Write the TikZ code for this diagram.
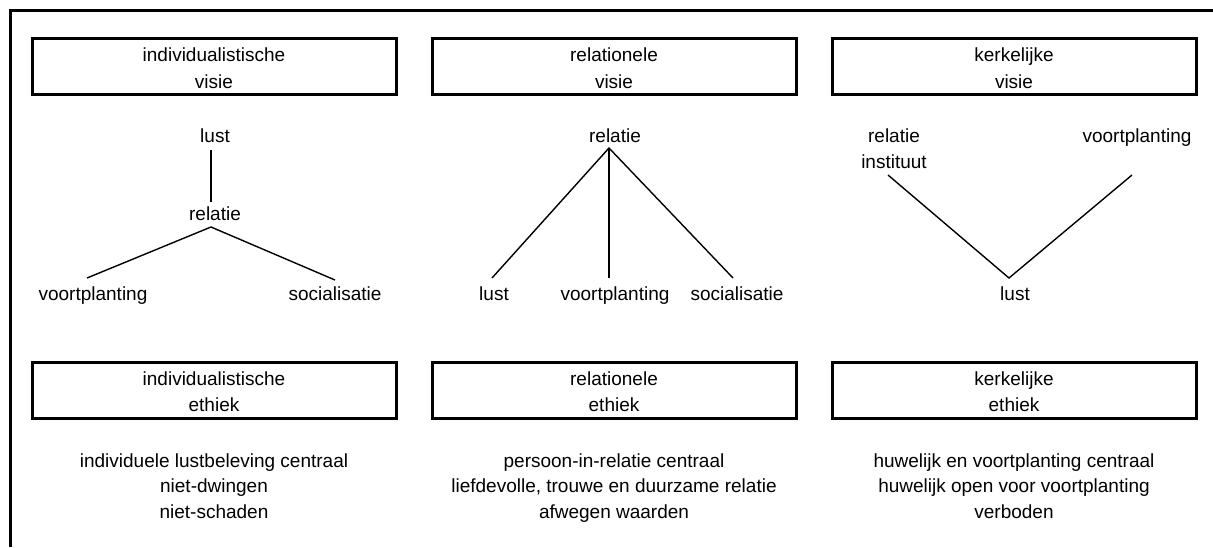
\documentclass[tikz,border=0pt]{standalone}
\usepackage{fontspec}
\setmainfont{Liberation Sans}
\begin{document}
\begin{tikzpicture}[x=1pt,y=-1pt,
  lbl/.style={inner sep=0pt,anchor=base,align=center,font=\fontsize{19}{26.5}\selectfont},
  txt/.style={inner sep=0pt,anchor=base,align=center,font=\fontsize{19}{25.5}\selectfont},
  titlebox/.style={draw,line width=3pt,minimum width=364pt,minimum height=56pt,inner sep=0pt},
  link/.style={line width=1.4pt},
  frame/.style={line width=3pt}]
\useasboundingbox (0,0) rectangle (1213,547);
% frame
\coordinate (fa) at (1213,10.5);
\coordinate (fb) at (10.5,10.5);
\coordinate (fc) at (10.5,547);
\draw[frame] (fa) -- (fb) -- (fc);
% title boxes
\node[titlebox] (b1) at (214,66) {};
\node[titlebox] (b2) at (614,66) {};
\node[titlebox] (b3) at (1014,66) {};
\node[lbl] (bt1) at (214,88) {individualistische\\visie};
\node[lbl] (bt2) at (614,88) {relationele\\visie};
\node[lbl] (bt3) at (1014,88) {kerkelijke\\visie};
\node[titlebox] (e1) at (214,390.3) {};
\node[titlebox] (e2) at (614,390.3) {};
\node[titlebox] (e3) at (1014,390.3) {};
\node[lbl] (et1) at (214,411.5) {individualistische\\ethiek};
\node[lbl] (et2) at (614,411.5) {relationele\\ethiek};
\node[lbl] (et3) at (1014,411.5) {kerkelijke\\ethiek};
% tree 1
\node[txt] (a1) at (215,142) {lust};
\node[txt] (r1) at (215,220) {relatie};
\node[txt] (v1) at (93,300) {voortplanting};
\node[txt] (s1) at (335,300) {socialisatie};
\draw[link] ([xshift=-4pt,yshift=-8pt]a1.base) -- ([xshift=-4pt,yshift=18pt]r1.base);
\draw[link] ([xshift=-6pt,yshift=22pt]v1.base) -- ([xshift=-4pt,yshift=-7pt]r1.base) -- ([xshift=0pt,yshift=20pt]s1.base);
% tree 2
\node[txt] (a2) at (615,142) {relatie};
\node[txt] (l2) at (494,300) {lust};
\node[txt] (v2) at (615,300) {voortplanting};
\node[txt] (s2) at (737,300) {socialisatie};
\draw[link] ([xshift=-2pt,yshift=22pt]l2.base) -- ([xshift=-6pt,yshift=-6pt]a2.base) -- ([xshift=-4pt,yshift=22pt]s2.base);
\draw[link] ([xshift=-6pt,yshift=-6pt]a2.base) -- ([xshift=-6pt,yshift=22pt]v2.base);
% tree 3
\node[txt,font=\fontsize{19}{26}\selectfont] (r3) at (894,168) {relatie\\instituut};
\node[txt] (v3) at (1137,142) {voortplanting};
\node[txt] (l3) at (1015,300) {lust};
\draw[link] ([xshift=-6pt,yshift=-7pt]r3.base) -- ([xshift=-6pt,yshift=22pt]l3.base) -- ([xshift=-5pt,yshift=-33pt]v3.base);
% ethics text
\node[txt] (d1) at (214,518) {individuele lustbeleving centraal\\niet-dwingen\\niet-schaden};
\node[txt] (d2) at (614,518) {persoon-in-relatie centraal\\liefdevolle, trouwe en duurzame relatie\\afwegen waarden};
\node[txt] (d3) at (1014,518) {huwelijk en voortplanting centraal\\huwelijk open voor voortplanting\\verboden};
\end{tikzpicture}
\end{document}
